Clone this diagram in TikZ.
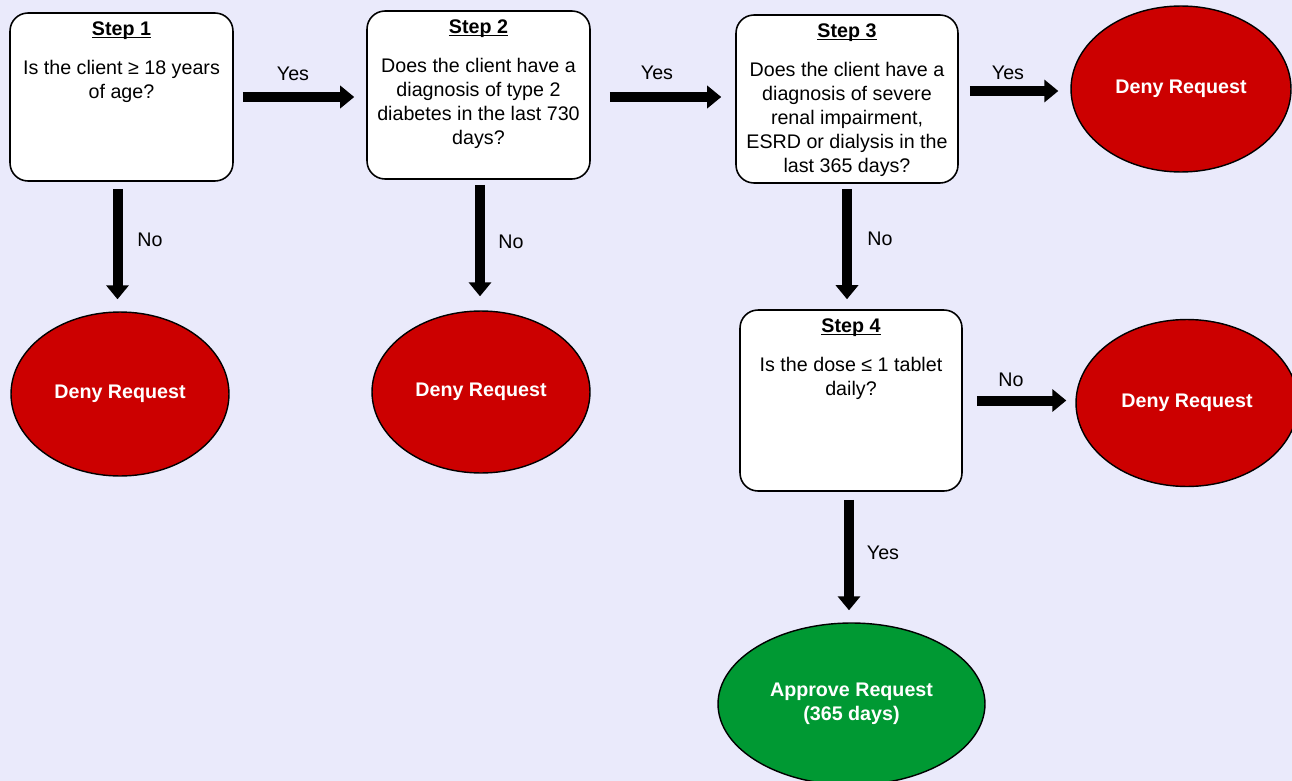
\documentclass[tikz,border=0pt]{standalone}
\usepackage{fontspec}
\setmainfont{Liberation Sans}
\usetikzlibrary{shapes.geometric, arrows.meta}

\definecolor{pagebg}{HTML}{EAEAFB}
\definecolor{denyred}{HTML}{CC0000}
\definecolor{okgreen}{HTML}{009933}

\newcommand{\steptitle}[1]{\setbox0\hbox{\textbf{#1}}\rlap{\rule[-1.4pt]{\wd0}{0.75pt}}\box0}
\newcommand{\steptext}[3]{\parbox[c][#1][t]{4.3cm}{\centering\vspace*{3.5pt}\strut\steptitle{#2}\\[8.5pt]#3}}

\tikzset{
  stepbox/.style={draw, fill=white, line width=0.9pt, rounded corners=0.36cm,
    inner sep=0pt, minimum width=#1},
  endoval/.style={ellipse, draw, line width=0.8pt, inner sep=0pt,
    text=white, font=\fontsize{11.2}{13.6}\selectfont\bfseries, align=center},
  bigarrow/.style={line width=0.2cm, -{Triangle[width=0.44cm,length=0.28cm]}},
  arrlabel/.style={inner sep=1pt}
}

\begin{document}
\begin{tikzpicture}[x=0.02cm, y=-0.02cm, font=\fontsize{11.2}{13.6}\selectfont]
\fill[pagebg] (0,0) rectangle (1292,781);
\useasboundingbox (0,0) rectangle (1292,781);

% steps
\node[stepbox=4.46cm] (s1) at (121.5,97) {\steptext{3.36cm}{Step 1}{Is the client ≥ 18 years\\of age?}};
\node[stepbox=4.46cm] (s2) at (478.5,95) {\steptext{3.36cm}{Step 2}{Does the client have a\\diagnosis of type 2\\diabetes in the last 730\\days?}};
\node[stepbox=4.44cm] (s3) at (847,99) {\steptext{3.36cm}{Step 3}{Does the client have a\\diagnosis of severe\\renal impairment,\\ESRD or dialysis in the\\last 365 days?}};
\node[stepbox=4.44cm] (s4) at (851,400.5) {\steptext{3.62cm}{Step 4}{Is the dose ≤ 1 tablet\\daily?}};

% outcomes
\node[endoval, fill=denyred, minimum width=4.36cm, minimum height=3.28cm] (d1) at (120,394) {Deny Request};
\node[endoval, fill=denyred, minimum width=4.36cm, minimum height=3.24cm] (d2) at (481,392) {Deny Request};
\node[endoval, fill=denyred, minimum width=4.40cm, minimum height=3.32cm] (d3) at (1181,89) {Deny Request};
\node[endoval, fill=denyred, minimum width=4.44cm, minimum height=3.34cm] (d4) at (1187,403) {Deny Request};
\node[endoval, fill=okgreen, minimum width=5.34cm, minimum height=3.24cm] (ok) at (851.5,704) {Approve Request\\(365 days)};

% arrows
\draw[bigarrow, shorten <=0.18cm, shorten >=0.24cm] (s1.east) -- (s1.east -| s2.west);
\draw[bigarrow, shorten <=0.38cm, shorten >=0.28cm] ([yshift=-0.04cm]s2.east) -- ([yshift=-0.04cm]s2.east -| s3.west);
\draw[bigarrow, shorten <=0.22cm, shorten >=0.24cm] ([yshift=-0.04cm]d3.west -| s3.east) -- ([yshift=-0.04cm]d3.west);
\draw[bigarrow, shorten <=0.14cm, shorten >=0.24cm] ([xshift=-0.08cm]s1.south) -- ([xshift=-0.08cm]s1.south |- d1.north);
\draw[bigarrow, shorten <=0.10cm, shorten >=0.28cm] ([xshift=0.03cm]s2.south) -- ([xshift=0.03cm]s2.south |- d2.north);
\draw[bigarrow, shorten <=0.10cm, shorten >=0.20cm] (s3.south) -- (s3.south |- s4.north);
\draw[bigarrow, shorten <=0.28cm, shorten >=0.18cm] (s4.east) -- (s4.east -| d4.west);
\draw[bigarrow, shorten <=0.16cm, shorten >=0.24cm] ([xshift=-0.04cm]s4.south) -- ([xshift=-0.04cm]s4.south |- ok.north);

% labels
\node[arrlabel] (y1) at (293,74) {Yes};
\node[arrlabel] (y2) at (657,73) {Yes};
\node[arrlabel] (y3) at (1008,73) {Yes};
\node[arrlabel] (n1) at (150,240) {No};
\node[arrlabel] (n2) at (511,242) {No};
\node[arrlabel] (n3) at (880,239) {No};
\node[arrlabel] (n4) at (1011,380) {No};
\node[arrlabel] (y4) at (883,553) {Yes};
\end{tikzpicture}
\end{document}
